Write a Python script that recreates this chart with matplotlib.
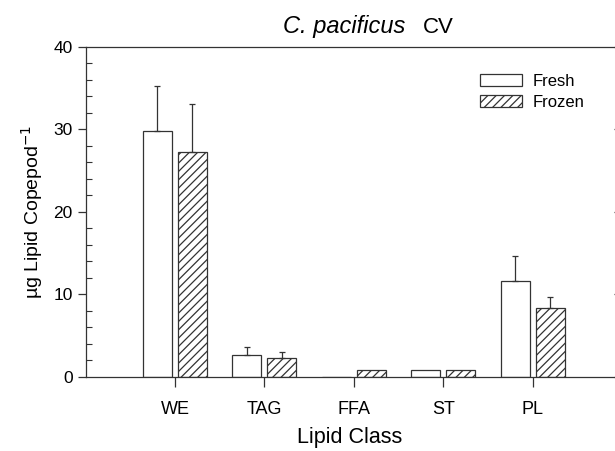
import matplotlib
matplotlib.use("Agg")
import matplotlib.pyplot as plt
import numpy as np
from matplotlib.ticker import MultipleLocator
from matplotlib.patches import Patch

plt.rcParams['font.family'] = ['Liberation Sans', 'DejaVu Sans']
plt.rcParams['hatch.linewidth'] = 0.9

categories = ["WE", "TAG", "FFA", "ST", "PL"]
fresh = [29.8, 2.7, 0.0, 0.9, 11.6]
fresh_err = [5.5, 0.9, 0.0, 0.0, 3.1]
frozen = [27.3, 2.25, 0.8, 0.9, 8.4]
frozen_err = [5.75, 0.75, 0.0, 0.0, 1.3]

fig = plt.figure(figsize=(6.15, 4.51), dpi=100)
ax = fig.add_axes([0.1398, 0.1641, 0.8585, 0.7317])

x = np.arange(len(categories))
w = 0.324
off = 0.196
lc = '#333333'

ax.bar(x - off, fresh, w, color='white', edgecolor=lc, linewidth=0.9, label='Fresh')
ax.bar(x + off, frozen, w, color='white', edgecolor=lc, linewidth=0.9, hatch='////', label='Frozen')

for xi, v, e in zip(x - off, fresh, fresh_err):
    if e > 0:
        ax.errorbar(xi, v, yerr=[[0], [e]], fmt='none', ecolor=lc, elinewidth=0.9, capsize=2.5, capthick=0.9)
for xi, v, e in zip(x + off, frozen, frozen_err):
    if e > 0:
        ax.errorbar(xi, v, yerr=[[0], [e]], fmt='none', ecolor=lc, elinewidth=0.9, capsize=2.5, capthick=0.9)

ax.set_xlim(-0.994, 4.905)
ax.set_ylim(0, 40)
ax.set_xticks(x)
ax.set_xticklabels(categories, fontsize=13)
ax.yaxis.set_major_locator(MultipleLocator(10))
ax.yaxis.set_minor_locator(MultipleLocator(2))
ax.tick_params(axis='y', which='major', direction='out', length=6, width=0.9, labelsize=12.5, color=lc)
ax.tick_params(axis='y', which='minor', direction='in', length=4, width=0.8, color=lc)
ax.tick_params(axis='x', which='major', direction='out', length=7, width=0.9, pad=10, color=lc)
ax.tick_params(axis='y', which='major', right=True, labelright=False)

for s in ['left', 'bottom', 'top']:
    ax.spines[s].set_color(lc)
    ax.spines[s].set_linewidth(0.9)
ax.spines['right'].set_visible(False)

ax.set_xlabel('Lipid Class', fontsize=15.5, labelpad=7)
ax.set_ylabel('µg Lipid Copepod$^{-1}$', fontsize=14, labelpad=6)

fig.text(0.6585, 0.927, 'C. pacificus', fontsize=17, style='italic', ha='right', va='baseline')
fig.text(0.688, 0.927, 'CV', fontsize=16, ha='left', va='baseline')

handles = [Patch(facecolor='white', edgecolor=lc, linewidth=0.9, label='Fresh'),
           Patch(facecolor='white', edgecolor=lc, linewidth=0.9, hatch='////', label='Frozen')]
ax.legend(handles=handles, loc='upper left', bbox_to_anchor=(0.746, 0.918), frameon=False,
          fontsize=12, handlelength=2.55, handleheight=0.7, handletextpad=0.6,
          labelspacing=0.35, borderpad=0, borderaxespad=0)

fig.savefig('out.png', dpi=100)
